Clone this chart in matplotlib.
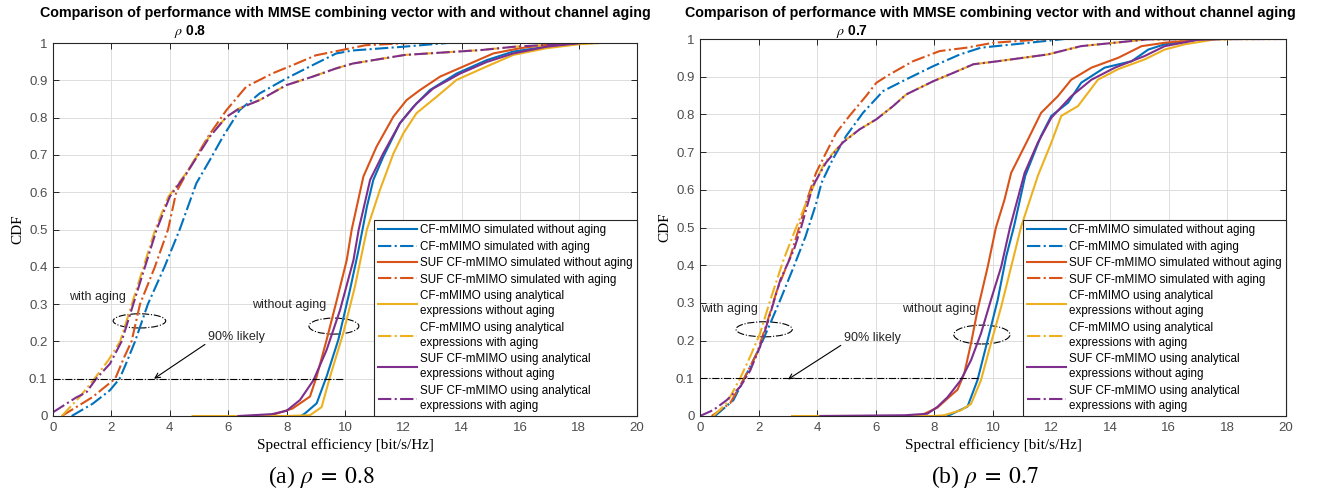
import numpy as np
import matplotlib.pyplot as plt
from matplotlib.patches import Ellipse
from matplotlib.ticker import FormatStrFormatter

plt.rcParams['font.family'] = ['Liberation Sans', 'DejaVu Sans']
plt.rcParams['mathtext.fontset'] = 'stix'

# ---------------- (a) rho = 0.8 ----------------
a_cf_sim_x = [8.5, 8.63, 9.03, 9.37, 9.77, 10.17, 10.45, 10.6, 10.75, 10.97, 11.31, 11.88, 12.34, 12.91, 13.82, 14.85, 15.76, 16.9, 18.05]
a_cf_sim_y = [0, 0.007, 0.034, 0.106, 0.204, 0.338, 0.44, 0.5, 0.561, 0.633, 0.695, 0.785, 0.829, 0.874, 0.918, 0.954, 0.977, 0.99, 1.0]
a_cf_age_x = [0.64, 1.36, 1.95, 2.28, 2.5, 2.81, 3.25, 3.82, 4.34, 4.91, 5.37, 5.82, 6.39, 7.08, 7.99, 8.9, 9.7, 10.27, 12.0, 13.5]
a_cf_age_y = [0, 0.033, 0.069, 0.1, 0.14, 0.2, 0.3, 0.4, 0.5, 0.624, 0.686, 0.749, 0.82, 0.865, 0.905, 0.941, 0.972, 0.98, 0.99, 1.0]
a_suf_sim_x = [7.4, 8.2, 8.8, 9.03, 9.37, 9.72, 10.06, 10.23, 10.63, 11.08, 11.66, 12.11, 12.57, 13.26, 14.17, 15.08, 15.99, 16.9, 17.8]
a_suf_sim_y = [0, 0.02, 0.052, 0.106, 0.204, 0.311, 0.418, 0.5, 0.642, 0.722, 0.803, 0.847, 0.874, 0.91, 0.941, 0.972, 0.986, 0.995, 1.0]
a_suf_age_x = [0.3, 0.8, 1.36, 1.7, 2.13, 2.44, 2.69, 2.98, 3.49, 3.94, 4.22, 4.57, 5.31, 5.94, 6.62, 7.53, 8.22, 9.0, 9.57, 10.7, 12.2]
a_suf_age_y = [0, 0.024, 0.051, 0.073, 0.1, 0.158, 0.2, 0.3, 0.4, 0.5, 0.6, 0.65, 0.749, 0.82, 0.883, 0.919, 0.941, 0.967, 0.976, 0.994, 1.0]
a_cf_ana_x = [4.78, 8.0, 8.8, 9.2, 9.49, 9.94, 10.34, 10.75, 11.2, 11.66, 12.0, 12.45, 13.14, 13.82, 14.85, 15.76, 16.9, 18.05, 18.7]
a_cf_ana_y = [0, 0, 0.002, 0.024, 0.106, 0.222, 0.347, 0.5, 0.607, 0.704, 0.758, 0.812, 0.856, 0.901, 0.937, 0.968, 0.986, 0.997, 1.0]
a_cf_ana_age_x = [0.3, 0.9, 1.42, 1.9, 2.3, 2.7, 3.1, 3.5, 3.95, 4.55, 5.35, 5.94, 6.39, 7.08, 7.99, 8.9, 9.7, 10.27, 12.05, 14.65, 15.8, 18.7]
a_cf_ana_age_y = [0, 0.05, 0.1, 0.15, 0.2, 0.3, 0.4, 0.5, 0.588, 0.65, 0.749, 0.802, 0.825, 0.847, 0.887, 0.91, 0.932, 0.945, 0.968, 0.981, 0.99, 1.0]
a_suf_ana_x = [6.35, 7.5, 8.0, 8.46, 8.92, 9.37, 9.83, 10.29, 10.47, 10.86, 11.31, 11.88, 12.45, 13.02, 13.94, 14.85, 15.76, 16.9, 18.05]
a_suf_ana_y = [0, 0.005, 0.014, 0.043, 0.096, 0.177, 0.284, 0.418, 0.5, 0.633, 0.704, 0.785, 0.838, 0.878, 0.918, 0.949, 0.972, 0.99, 1.0]
a_suf_ana_age_x = [0.0, 0.8, 1.14, 1.48, 1.95, 2.35, 2.75, 3.15, 3.55, 4.0, 4.57, 5.37, 5.94, 6.39, 7.08, 7.99, 8.9, 9.7, 10.27, 12.05, 14.65, 15.8, 18.1]
a_suf_ana_age_y = [0.01, 0.05, 0.063, 0.1, 0.14, 0.2, 0.3, 0.4, 0.5, 0.588, 0.65, 0.749, 0.802, 0.825, 0.847, 0.887, 0.91, 0.932, 0.945, 0.968, 0.981, 0.99, 1.0]

# ---------------- (b) rho = 0.7 ----------------
b_cf_sim_x = [8.45, 9.13, 9.47, 9.82, 10.16, 10.45, 10.72, 11.1, 11.64, 11.99, 12.56, 13.01, 13.81, 14.73, 15.3, 15.86, 17.0, 17.6]
b_cf_sim_y = [0, 0.025, 0.095, 0.202, 0.308, 0.423, 0.504, 0.637, 0.743, 0.796, 0.831, 0.884, 0.924, 0.941, 0.972, 0.986, 0.998, 1.0]
b_cf_age_x = [0.51, 1.14, 1.6, 2.05, 2.4, 2.74, 3.2, 3.6, 3.95, 4.15, 4.53, 4.99, 5.56, 6.25, 7.04, 7.96, 8.87, 9.59, 10.73, 12.44]
b_cf_age_y = [0, 0.042, 0.113, 0.184, 0.246, 0.308, 0.396, 0.476, 0.56, 0.619, 0.681, 0.743, 0.804, 0.862, 0.893, 0.928, 0.959, 0.977, 0.986, 1.0]
b_suf_sim_x = [7.5, 8.1, 8.5, 8.79, 9.02, 9.25, 9.47, 9.82, 10.1, 10.39, 10.62, 11.19, 11.64, 12.21, 12.67, 13.36, 14.27, 15.07, 15.86, 17.24]
b_suf_sim_y = [0, 0.022, 0.05, 0.07, 0.113, 0.193, 0.28, 0.396, 0.5, 0.573, 0.645, 0.733, 0.804, 0.848, 0.892, 0.924, 0.95, 0.981, 0.99, 1.0]
b_suf_age_x = [0.4, 1.03, 1.48, 1.94, 2.28, 2.63, 3.08, 3.4, 3.62, 3.96, 4.3, 4.65, 5.1, 5.67, 6.02, 6.47, 7.27, 8.18, 9.1, 10.0, 11.87]
b_suf_age_y = [0, 0.034, 0.096, 0.166, 0.246, 0.334, 0.422, 0.504, 0.566, 0.645, 0.698, 0.751, 0.796, 0.849, 0.884, 0.906, 0.941, 0.968, 0.977, 0.99, 1.0]
b_cf_ana_x = [3.14, 8.0, 8.33, 8.9, 9.25, 9.59, 9.93, 10.28, 10.62, 10.96, 11.53, 11.99, 12.33, 12.9, 13.58, 14.27, 15.18, 15.86, 16.55, 17.58, 18.2]
b_cf_ana_y = [0, 0, 0.002, 0.015, 0.032, 0.095, 0.193, 0.29, 0.396, 0.502, 0.637, 0.725, 0.796, 0.822, 0.892, 0.92, 0.946, 0.972, 0.986, 0.999, 1.0]
b_cf_ana_age_x = [0.46, 0.91, 1.37, 1.71, 2.05, 2.4, 2.85, 3.2, 3.7, 4.25, 4.85, 5.44, 6.02, 6.59, 7.04, 7.96, 8.64, 9.33, 10.16, 11.87, 13.0, 14.14, 15.28, 20.0]
b_cf_ana_age_y = [0, 0.034, 0.1, 0.157, 0.219, 0.308, 0.414, 0.484, 0.58, 0.672, 0.725, 0.76, 0.787, 0.822, 0.853, 0.888, 0.91, 0.933, 0.941, 0.959, 0.981, 0.99, 0.999, 1.0]
b_suf_ana_x = [4.11, 7.0, 7.76, 8.1, 8.45, 8.9, 9.25, 9.59, 9.93, 10.28, 10.58, 11.08, 11.53, 11.99, 12.67, 13.36, 14.16, 15.18, 15.86, 17.0, 17.8]
b_suf_ana_y = [0, 0.002, 0.006, 0.024, 0.05, 0.095, 0.148, 0.219, 0.308, 0.396, 0.5, 0.645, 0.725, 0.791, 0.848, 0.892, 0.924, 0.955, 0.981, 0.998, 1.0]
b_suf_ana_age_x = [0.0, 0.46, 0.91, 1.37, 1.71, 2.05, 2.4, 2.74, 3.2, 3.45, 3.85, 4.3, 4.87, 5.44, 6.02, 6.59, 7.04, 7.96, 8.64, 9.33, 10.16, 11.87, 13.0, 14.14, 15.28, 20.0]
b_suf_ana_age_y = [0, 0.016, 0.042, 0.077, 0.12, 0.184, 0.272, 0.361, 0.44, 0.5, 0.61, 0.672, 0.725, 0.76, 0.787, 0.822, 0.853, 0.888, 0.91, 0.933, 0.941, 0.959, 0.981, 0.99, 0.999, 1.0]

labels = ['CF-mMIMO simulated without aging',
          'CF-mMIMO simulated with aging',
          'SUF CF-mMIMO simulated without aging',
          'SUF CF-mMIMO simulated with aging',
          'CF-mMIMO using analytical\nexpressions without aging',
          'CF-mMIMO using analytical\nexpressions with aging',
          'SUF CF-mMIMO using analytical\nexpressions without aging',
          'SUF CF-mMIMO using analytical\nexpressions with aging']
colors = ['#0072BD', '#0072BD', '#D95319', '#D95319', '#EDB120', '#EDB120', '#7E2F8E', '#7E2F8E']
styles = ['-', '-.', '-', '-.', '-', '-.', '-', '-.']

curves_a = [(a_cf_sim_x, a_cf_sim_y), (a_cf_age_x, a_cf_age_y), (a_suf_sim_x, a_suf_sim_y), (a_suf_age_x, a_suf_age_y),
            (a_cf_ana_x, a_cf_ana_y), (a_cf_ana_age_x, a_cf_ana_age_y), (a_suf_ana_x, a_suf_ana_y), (a_suf_ana_age_x, a_suf_ana_age_y)]
curves_b = [(b_cf_sim_x, b_cf_sim_y), (b_cf_age_x, b_cf_age_y), (b_suf_sim_x, b_suf_sim_y), (b_suf_age_x, b_suf_age_y),
            (b_cf_ana_x, b_cf_ana_y), (b_cf_ana_age_x, b_cf_ana_age_y), (b_suf_ana_x, b_suf_ana_y), (b_suf_ana_age_x, b_suf_ana_age_y)]

W, H = 1319, 495
fig = plt.figure(figsize=(W / 100, H / 100), dpi=100)


def px(x0, y0, x1, y1):
    return [x0 / W, 1 - y1 / H, (x1 - x0) / W, (y1 - y0) / H]


def draw(ax, curves, ann):
    for (x, y), c, s, lab in zip(curves, colors, styles, labels):
        ax.plot(x, y, color=c, linestyle=s, linewidth=1.5, label=lab)
    ax.set_xlim(0, 20)
    ax.set_ylim(0, 1)
    ax.set_xticks(np.arange(0, 21, 2))
    ax.set_yticks(np.arange(0, 1.01, 0.1))
    ax.yaxis.set_major_formatter(FormatStrFormatter('%g'))
    ax.grid(True, color='#dddddd', linewidth=0.7)
    ax.set_axisbelow(True)
    ax.tick_params(direction='in', top=True, right=True, length=4, width=0.7,
                   color='#262626', labelcolor='#4d4d4d', labelsize=9.5, pad=4)
    for sp in ax.spines.values():
        sp.set_color('#262626')
        sp.set_linewidth(0.8)
    ax.set_xlabel('Spectral efficiency [bit/s/Hz]', family='Liberation Serif', fontsize=11, labelpad=3)
    ax.set_ylabel('CDF', family='Liberation Serif', fontsize=11, labelpad=3)
    leg = ax.legend(loc='lower right', borderaxespad=0, fontsize=8.4, handlelength=3.3,
                    handletextpad=0.3, labelspacing=0.38, fancybox=False, framealpha=1,
                    borderpad=0.35, edgecolor='#262626')
    leg.get_frame().set_linewidth(0.8)
    for t in leg.get_texts():
        t.set_linespacing(1.35)
    # annotations
    ax.text(ann['wa_txt'][0], ann['wa_txt'][1], 'with aging', fontsize=9, color='#262626')
    ax.text(ann['woa_txt'][0], ann['woa_txt'][1], 'without aging', fontsize=9, color='#262626')
    for (cx, cy, ew, eh) in (ann['wa_ell'], ann['woa_ell']):
        ax.add_patch(Ellipse((cx, cy), ew, eh, fill=False, linestyle='-.', linewidth=0.8, color='black'))
    ax.plot([0, ann['line_end']], [0.1, 0.1], color='black', linestyle='-.', linewidth=0.8)
    ax.annotate('90% likely', xy=ann['arrow_to'], xytext=ann['likely_txt'], fontsize=9, color='#262626',
                arrowprops=dict(arrowstyle='->', color='black', lw=0.8, shrinkA=0, shrinkB=0,
                                relpos=(0, 0)))


ax1 = fig.add_axes(px(53, 43, 637, 416))
draw(ax1, curves_a, dict(wa_txt=(0.55, 0.31), woa_txt=(6.8, 0.29), wa_ell=(2.96, 0.255, 1.8, 0.038),
                         woa_ell=(9.62, 0.241, 1.71, 0.043), line_end=9.93,
                         likely_txt=(5.3, 0.205), arrow_to=(3.46, 0.1)))
ax2 = fig.add_axes(px(700, 39, 1286, 416))
draw(ax2, curves_b, dict(wa_txt=(0.05, 0.275), woa_txt=(6.88, 0.277), wa_ell=(2.19, 0.23, 1.92, 0.04),
                         woa_ell=(9.62, 0.216, 1.92, 0.05), line_end=9.5,
                         likely_txt=(4.9, 0.2), arrow_to=(3.0, 0.097)))

title = 'Comparison of performance with MMSE combining vector with and without channel aging'
fig.text(345 / W, 1 - 13 / H, title, ha='center', va='center', fontsize=10.3, fontweight='bold')
fig.text(990 / W, 1 - 13 / H, title, ha='center', va='center', fontsize=10.3, fontweight='bold')
fig.text(190 / W, 1 - 31 / H, r'$\rho$ 0.8', ha='center', va='center', fontsize=10, fontweight='bold')
fig.text(852 / W, 1 - 31 / H, r'$\rho$ 0.7', ha='center', va='center', fontsize=10, fontweight='bold')
fig.text(321 / W, 1 - 477 / H, r'(a) $\rho\;=\;0.8$', ha='center', va='center', fontsize=17, family='Liberation Serif')
fig.text(985 / W, 1 - 477 / H, r'(b) $\rho\;=\;0.7$', ha='center', va='center', fontsize=17, family='Liberation Serif')

fig.savefig('out.png', dpi=100)
